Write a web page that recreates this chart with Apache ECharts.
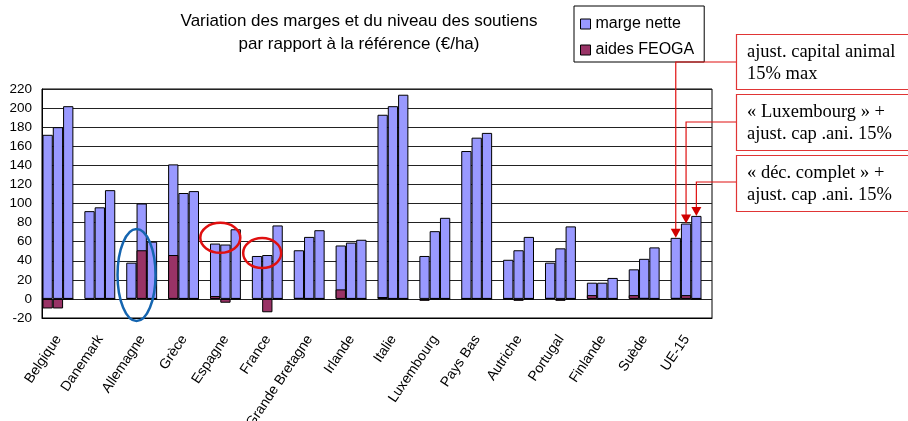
<!DOCTYPE html>
<html>
<head>
<meta charset="utf-8">
<script src="https://cdn.jsdelivr.net/npm/echarts@6/dist/echarts.min.js"></script>
<style>
  html, body { margin: 0; padding: 0; background: #fff; }
  #main { width: 908px; height: 421px; }
</style>
</head>
<body>
<div id="main"></div>
<script>
  // pays
  var pays = ['Belgique', 'Danemark', 'Allemagne', 'Grèce', 'Espagne', 'France', 'Grande Bretagne', 'Irlande',
    'Italie', 'Luxembourg', 'Pays Bas', 'Autriche', 'Portugal', 'Finlande', 'Suède', 'UE-15'];

  // marge nette (€/ha) : 3 scénarios
  var margeCapital = [172, 92, 38, 141, 58, 45, 51, 56, 193, 45, 155, 41, 38, 17, 31, 64];
  var margeLux = [180, 96, 100, 111, 57, 46, 65, 59, 202, 71, 169, 51, 53, 17, 42, 79];
  var margeDec = [202, 114, 60, 113, 73, 77, 72, 62, 214, 85, 174, 65, 76, 22, 54, 87];

  // aides FEOGA (€/ha)
  var aidesCapital = [-10, -1, 1, 46, 3, -1, 1, 10, 2, -2, 0, 0, 1, 4, 4, 1];
  var aidesLux = [-10, 0, 51, 0, -4, -14, 0, 0, 0, 0, 0, -2, -2, 0, 1, 4];
  var aidesDec = [0, 0, 0, 0, 0, 0, 0, 0, 0, 0, 0, 0, 0, 0, 0, 0];

  var titre = ['Variation des marges et du niveau des soutiens', 'par rapport à la référence (€/ha)'];
  var notes = [
    ['ajust. capital animal', '15% max'],
    ['« Luxembourg » +', 'ajust. cap .ani. 15%'],
    ['« déc. complet » +', 'ajust. cap .ani. 15%']
  ];

  var violet = '#9999ff', bordeaux = '#993366';
  var BW = 10.3, VIDE = 10;
  var sans = '"Liberation Sans", Arial, sans-serif';
  var serif = '"Liberation Serif", "Times New Roman", serif';

  var chart = echarts.init(document.getElementById('main'));

  function barre(nom, data, axe, couleur) {
    return {
      name: nom, type: 'bar', xAxisIndex: axe, data: data,
      barWidth: BW, barGap: '0%',
      itemStyle: { color: couleur, borderColor: '#000', borderWidth: 1 }
    };
  }
  // emplacement vide pour décaler les groupes vers la gauche
  function vide(axe) {
    return { type: 'bar', xAxisIndex: axe, data: [], barWidth: VIDE, barGap: '0%', silent: true };
  }

  var option = {
    animation: false,
    legend: {
      data: ['marge nette', 'aides FEOGA'],
      orient: 'vertical',
      left: 574, top: 6,
      padding: [10, 10, 4, 6],
      itemWidth: 10, itemHeight: 10, itemGap: 10,
      icon: 'rect',
      itemStyle: { borderColor: '#000', borderWidth: 1 },
      borderColor: '#000', borderWidth: 1,
      textStyle: { fontFamily: sans, fontSize: 16, color: '#000' }
    },
    grid: {
      left: 42, right: 196, top: 89, bottom: 103,
      containLabel: false, outerBoundsMode: 'none',
      show: true, borderColor: '#000', borderWidth: 1
    },
    xAxis: [{
      type: 'category', data: pays,
      axisLine: { onZero: false, lineStyle: { color: '#000' } },
      axisTick: { show: false },
      axisLabel: {
        interval: 0, rotate: 56, margin: 12, padding: [0, 8, 0, 0],
        fontFamily: sans, fontSize: 14, color: '#000'
      }
    }, {
      type: 'category', data: pays, show: false
    }],
    yAxis: {
      type: 'value', min: -20, max: 220, interval: 20,
      axisLine: { show: true, lineStyle: { color: '#000' } },
      axisTick: { show: false },
      axisLabel: { fontFamily: sans, fontSize: 13.5, color: '#000', margin: 10 },
      splitLine: { lineStyle: { color: '#222', width: 1 } }
    },
    series: [
      barre('marge nette', margeCapital, 0, violet),
      barre('marge nette', margeLux, 0, violet),
      barre('marge nette', margeDec, 0, violet),
      vide(0),
      barre('aides FEOGA', aidesCapital, 1, bordeaux),
      barre('aides FEOGA', aidesLux, 1, bordeaux),
      barre('aides FEOGA', aidesDec, 1, bordeaux),
      vide(1)
    ]
  };
  chart.setOption(option);

  // positions des annotations calculées à partir des axes
  function px(i, v) {
    return chart.convertToPixel({ xAxisIndex: 0, yAxisIndex: 0 }, [i, v]);
  }
  function slotX(i, k) {
    return px(i, 0)[0] - (3 * BW + VIDE) / 2 + BW * k + BW / 2;
  }

  var graphics = [];
  titre.forEach(function (t, j) {
    graphics.push({
      type: 'text', x: 359, y: 21 + j * 23,
      style: { text: t, font: '17px ' + sans, fill: '#000', align: 'center', verticalAlign: 'middle' }
    });
  });

  function ellipse(i, v, rx, ry, couleur) {
    var cx = (slotX(i, 0) + slotX(i, 1)) / 2;
    var cy = px(i, v)[1];
    graphics.push({
      type: 'ellipse', shape: { cx: cx, cy: cy, rx: rx, ry: ry },
      style: { fill: null, stroke: couleur, lineWidth: 2.5 }, z: 10
    });
  }
  ellipse(2, 25, 19, 46, '#1565b0');
  ellipse(4, 64, 20, 15, '#e01010');
  ellipse(5, 48, 19, 15, '#e01010');

  var boites = [{ y: 34, h: 55, ly: 62 }, { y: 94, h: 56, ly: 122 }, { y: 155, h: 56, ly: 182 }];
  var sommets = [margeCapital, margeLux, margeDec];
  var ue = pays.length - 1;
  boites.forEach(function (b, k) {
    graphics.push({
      type: 'rect', shape: { x: 736.5, y: b.y + 0.5, width: 190, height: b.h },
      style: { fill: '#fff', stroke: '#e03535', lineWidth: 1.2 }, z: 10
    });
    graphics.push({
      type: 'text', x: 747, y: b.y + 18,
      style: { text: notes[k][0], font: '18.5px ' + serif, fill: '#000', verticalAlign: 'middle' }, z: 11
    });
    graphics.push({
      type: 'text', x: 747, y: b.y + 40,
      style: { text: notes[k][1], font: '18.5px ' + serif, fill: '#000', verticalAlign: 'middle' }, z: 11
    });
    var ax = slotX(ue, k);
    var tip = px(ue, sommets[k][ue])[1];
    graphics.push({
      type: 'polyline', shape: { points: [[736, b.ly], [ax, b.ly], [ax, tip - 8]] },
      style: { stroke: '#e01010', lineWidth: 1.2, fill: null }, z: 10
    });
    graphics.push({
      type: 'polygon', shape: { points: [[ax - 5, tip - 9], [ax + 5, tip - 9], [ax, tip]] },
      style: { fill: '#d00000' }, z: 10
    });
  });

  chart.setOption({ graphic: graphics });
</script>
</body>
</html>
